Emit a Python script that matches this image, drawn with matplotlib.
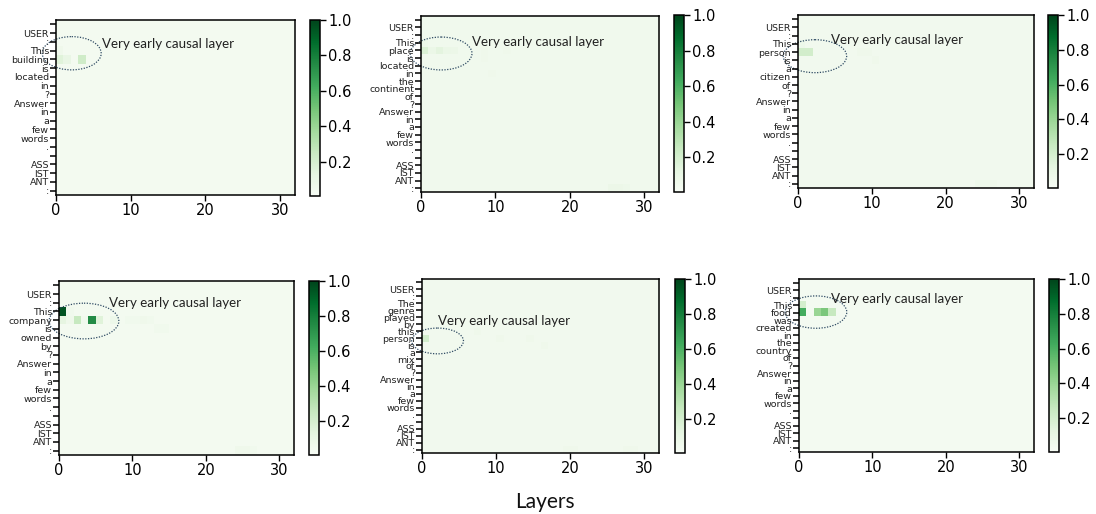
import numpy as np
import matplotlib
matplotlib.use("Agg")
import matplotlib.pyplot as plt
from matplotlib.patches import Ellipse

plt.rcParams["font.family"] = ["DejaVu Sans"]

W, H = 1096, 514
N_LAYERS = 32

# ---- token labels (y axis) ----
tokens_1 = ["", "USER", ":", "This", "building", "is", "located", "in", "?", "Answer",
            "in", "a", "few", "words", ".", "", "ASS", "IST", "ANT", ":"]
tokens_2 = ["", "USER", ":", "This", "place", "is", "located", "in", "the", "continent",
            "of", "?", "Answer", "in", "a", "few", "words", ".", "", "ASS", "IST", "ANT", ":"]
tokens_3 = ["", "USER", ":", "This", "person", "is", "a", "citizen", "of", "?", "Answer",
            "in", "a", "few", "words", ".", "", "ASS", "IST", "ANT", ":"]
tokens_4 = ["", "USER", ":", "This", "company", "is", "owned", "by", "?", "Answer",
            "in", "a", "few", "words", ".", "", "ASS", "IST", "ANT", ":"]
tokens_5 = ["", "USER", ":", "The", "genre", "played", "by", "this", "person", "is", "a",
            "mix", "of", "?", "Answer", "in", "a", "few", "words", ".", "", "ASS", "IST", "ANT", ":"]
tokens_6 = ["", "USER", ":", "This", "food", "was", "created", "in", "the", "country",
            "of", "?", "Answer", "in", "a", "few", "words", ".", "", "ASS", "IST", "ANT", ":"]

# ---- background level of each heatmap ----
base_1 = 0.035
base_2 = 0.05
base_3 = 0.045
base_4 = 0.035
base_5 = 0.045
base_6 = 0.03

# ---- highlighted cells: (token row, layer, value) ----
cells_1 = [(3, 0, 0.06), (4, 0, 0.15), (4, 1, 0.10), (4, 3, 0.22)]
cells_2 = [(3, 0, 0.07), (4, 0, 0.17), (4, 1, 0.09), (4, 2, 0.13), (4, 3, 0.09), (4, 4, 0.08),
           (4, 8, 0.06), (4, 11, 0.06), (5, 8, 0.06), (7, 9, 0.06),
           (22, 25, 0.08), (22, 26, 0.08), (22, 27, 0.07)]
cells_3 = [(3, 0, 0.07), (4, 0, 0.21), (4, 1, 0.21), (4, 8, 0.06), (4, 9, 0.06),
           (5, 10, 0.06), (20, 24, 0.07), (20, 25, 0.07), (20, 26, 0.06)]
cells_4 = [(3, 0, 0.95), (3, 1, 0.05), (4, 0, 0.12), (4, 1, 0.06), (4, 2, 0.25), (4, 3, 0.05),
           (4, 4, 0.75), (4, 5, 0.15), (4, 7, 0.07), (4, 9, 0.05), (4, 10, 0.05),
           (4, 11, 0.06), (4, 12, 0.05), (5, 13, 0.05), (5, 14, 0.05),
           (19, 24, 0.06), (19, 25, 0.06), (19, 26, 0.05)]
cells_5 = [(8, 0, 0.20), (7, 7, 0.06), (8, 10, 0.06), (8, 14, 0.06), (9, 16, 0.06),
           (24, 19, 0.06), (24, 20, 0.06), (24, 27, 0.06), (24, 28, 0.06)]
cells_6 = [(3, 0, 0.20), (4, 0, 0.62), (4, 2, 0.40), (4, 3, 0.48), (4, 4, 0.25)]

# ---- annotation ellipses (center layer, center row, width, height) and text anchor ----
ell_1 = (2.1, 3.3, 7.9, 3.8); txt_1 = (6.2, 2.3)
ell_2 = (2.7, 4.4, 8.3, 4.3); txt_2 = (6.8, 2.9)
ell_3 = (2.3, 4.5, 8.6, 4.0); txt_3 = (4.5, 2.5)
ell_4 = (3.4, 4.1, 9.5, 4.1); txt_4 = (6.8, 2.0)
ell_5 = (2.1, 8.4, 7.0, 3.7); txt_5 = (2.2, 5.5)
ell_6 = (2.3, 3.9, 8.4, 4.3); txt_6 = (4.4, 2.2)

# ---- pixel layout: (left, top, right, bottom) ----
ax_px = [(56, 20, 295, 195), (421, 16, 659, 192), (798, 15, 1034, 188),
         (59, 281, 294, 455), (422, 279, 659, 453), (799, 279, 1034, 452)]
cb_px = [(310, 20, 320, 196), (674, 15, 684, 192), (1048, 15, 1058, 188),
         (309, 281, 319, 455), (675, 279, 685, 453), (1049, 279, 1059, 452)]

panels = [
    (tokens_1, base_1, cells_1, ell_1, txt_1),
    (tokens_2, base_2, cells_2, ell_2, txt_2),
    (tokens_3, base_3, cells_3, ell_3, txt_3),
    (tokens_4, base_4, cells_4, ell_4, txt_4),
    (tokens_5, base_5, cells_5, ell_5, txt_5),
    (tokens_6, base_6, cells_6, ell_6, txt_6),
]

LABEL_FONT = ["Lato", "DejaVu Sans"]

fig = plt.figure(figsize=(W / 100, H / 100), dpi=100)


def rect(px):
    l, t, r, b = px
    return [l / W, 1 - b / H, (r - l) / W, (b - t) / H]


for (tokens, base, cells, ell, txt), apx, cpx in zip(panels, ax_px, cb_px):
    n = len(tokens)
    data = np.full((n, N_LAYERS), base)
    for r, c, v in cells:
        data[r, c] = v
    ax = fig.add_axes(rect(apx))
    im = ax.imshow(data, cmap="Greens", vmin=0.005, vmax=1.0, aspect="auto",
                   interpolation="nearest", extent=[0, N_LAYERS, n - 0.5, -0.5])
    ax.set_xlim(0, N_LAYERS)
    ax.set_ylim(n - 0.5, -0.5)
    ax.set_xticks([0, 10, 20, 30])
    ax.tick_params(axis="x", labelsize=10.5, length=4, width=1, pad=2)
    ax.set_yticks(range(n))
    ax.set_yticklabels(tokens, fontsize=6.8, family="DejaVu Sans", color="#222222")
    ax.tick_params(axis="y", length=4, width=1.1, pad=1)
    for s in ax.spines.values():
        s.set_linewidth(1.1)
    cx, cy, w, h = ell
    ax.add_patch(Ellipse((cx, cy), w, h, fill=False, edgecolor="#2e4a63",
                         linestyle=(0, (1, 1.2)), linewidth=0.9, clip_on=False))
    ax.text(txt[0], txt[1], "Very early causal layer", fontsize=9.6, family=LABEL_FONT,
            color="#222222", ha="left", va="center")

    cax = fig.add_axes(rect(cpx))
    cb = fig.colorbar(im, cax=cax)
    cb.set_ticks([0.2, 0.4, 0.6, 0.8, 1.0])
    cb.ax.tick_params(labelsize=10.5, length=4, width=1, pad=2)
    cb.outline.set_linewidth(1.1)

fig.text(545 / W, 1 - 502 / H, "Layers", fontsize=15, family=LABEL_FONT,
         ha="center", va="center", color="#111111")

fig.savefig("out.png", dpi=100)
